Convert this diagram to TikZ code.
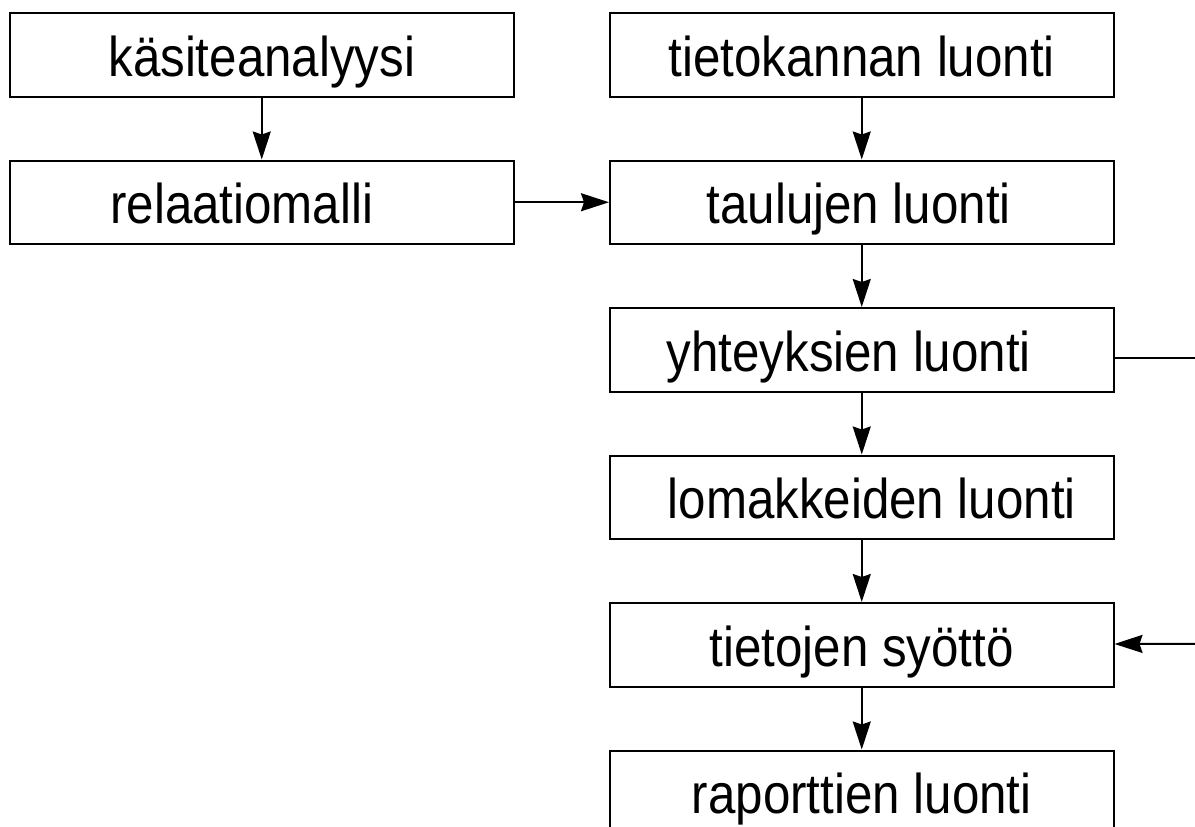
\documentclass[tikz,border=0pt]{standalone}
\usepackage{graphicx}
\usepackage{fontspec}
\setmainfont{Liberation Sans}
\usetikzlibrary{arrows.meta}
\newcommand{\lbl}[1]{\scalebox{0.88}[1]{#1}}
\begin{document}
\begin{tikzpicture}[x=1pt,y=-1pt,
  box/.style={draw, line width=2pt, rectangle, inner sep=0pt,
    minimum width=503.5pt, text height=63pt, text depth=20.5pt,
    anchor=north, font=\fontsize{56}{60}\selectfont},
  conn/.style={line width=2pt, -{Stealth[length=28pt,width=18pt,inset=3pt]}},
  plain/.style={line width=2pt}]
\clip (0,0) rectangle (1195,827);
\node[box] (ka) at (261.75,12) {\lbl{käsiteanalyysi}};
\node[box] (re) at (261.75,159.5) {\lbl{relaatiomalli}\hspace*{40pt}};
\node[box] (tk) at (861.75,12) {\lbl{tietokannan luonti}};
\node[box] (ta) at (861.75,159.5) {\lbl{taulujen luonti}\hspace*{6pt}};
\node[box] (yh) at (861.75,307) {\lbl{yhteyksien luonti}\hspace*{26pt}};
\node[box] (lo) at (861.75,454.5) {\hspace*{20pt}\lbl{lomakkeiden luonti}};
\node[box] (ts) at (861.75,602) {\lbl{tietojen syöttö}};
\node[box] (ra) at (861.75,749.5) {\lbl{raporttien luonti}};
\coordinate (out) at (1195,358);
\coordinate (in) at (1195,643.75);
\draw[conn] (ka) -- (re);
\draw[conn] (re) -- (ta);
\draw[conn] (tk) -- (ta);
\draw[conn] (ta) -- (yh);
\draw[conn] (yh) -- (lo);
\draw[conn] (lo) -- (ts);
\draw[conn] (ts) -- (ra);
\draw[plain] (yh.east |- out) -- (out);
\draw[conn] (in) -- (ts);
\end{tikzpicture}
\end{document}
